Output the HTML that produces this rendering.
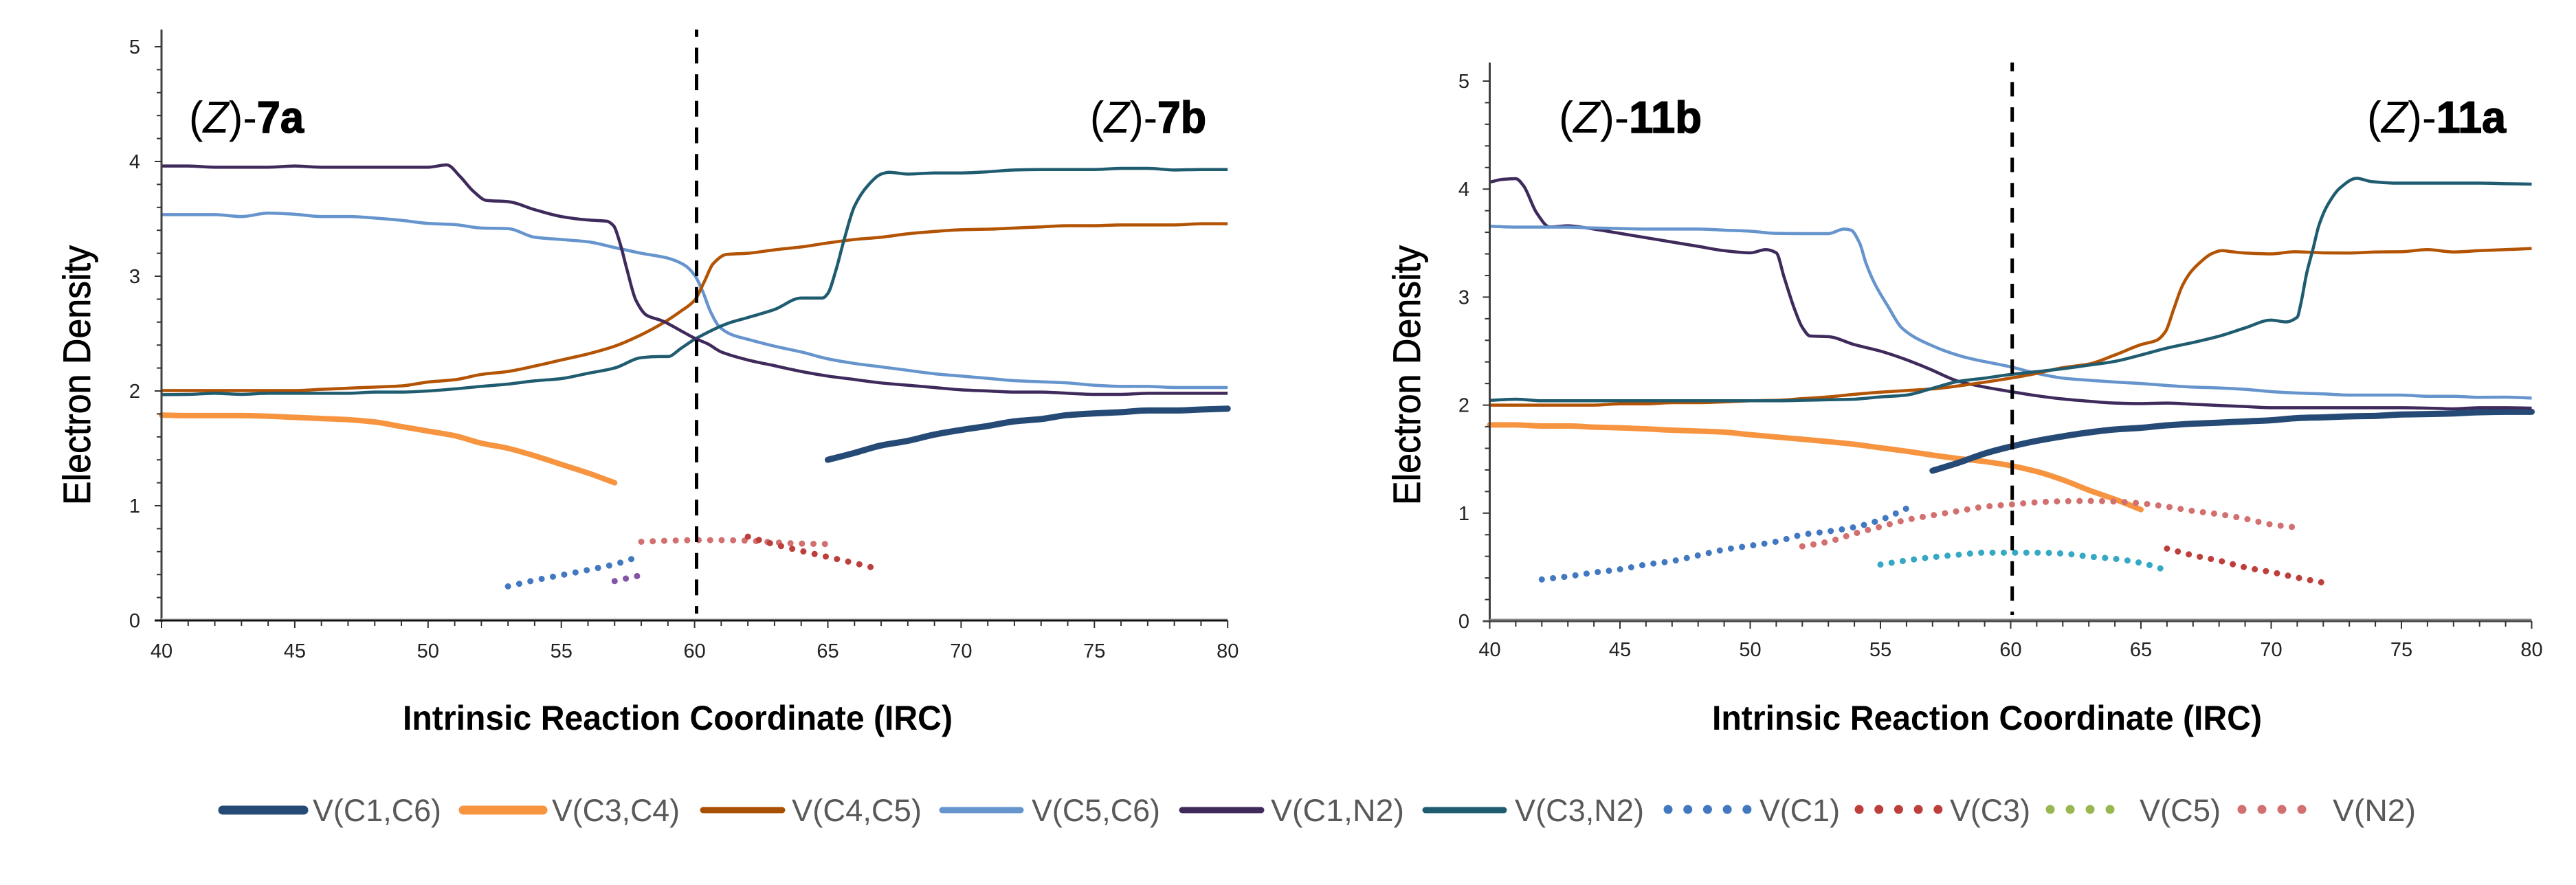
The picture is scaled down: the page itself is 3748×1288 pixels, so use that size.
<!DOCTYPE html>
<html lang="en">
<head>
<meta charset="utf-8">
<title>Electron density along the IRC</title>
<style>
html,body{margin:0;padding:0;background:#fff;}
svg{display:block;}
text{font-family:"Liberation Sans",sans-serif;}
.tick{font-size:29px;fill:#222;}
.axt{font-size:50px;font-weight:bold;fill:#000;}
.ayt{font-size:56px;fill:#000;stroke:#000;stroke-width:.8px;}
.lab{font-size:65px;fill:#000;}
.lab .b{font-weight:bold;stroke:#000;stroke-width:1.5px;}
.leg{font-size:45px;fill:#595959;}
</style>
</head>
<body>
<svg id="figure" xmlns="http://www.w3.org/2000/svg" width="3748" height="1288" viewBox="0 0 3748 1288">
<rect width="3748" height="1288" fill="#fff"/>
<g id="panel-a"></g>
<g id="panel-b"></g>

<text class="ayt" transform="translate(131,546) rotate(-90)" text-anchor="middle" textLength="378" lengthAdjust="spacingAndGlyphs">Electron Density</text>
<text class="ayt" transform="translate(2066,546) rotate(-90)" text-anchor="middle" textLength="378" lengthAdjust="spacingAndGlyphs">Electron Density</text>
<text class="axt" x="586" y="1062" textLength="800" lengthAdjust="spacingAndGlyphs">Intrinsic Reaction Coordinate  (IRC)</text>
<text class="axt" x="2491" y="1062" textLength="800" lengthAdjust="spacingAndGlyphs">Intrinsic Reaction Coordinate  (IRC)</text>

<text class="lab" x="275" y="193" textLength="167" lengthAdjust="spacingAndGlyphs">(<tspan font-style="italic">Z</tspan>)-<tspan class="b">7a</tspan></text>
<text class="lab" x="1586" y="193" textLength="169" lengthAdjust="spacingAndGlyphs">(<tspan font-style="italic">Z</tspan>)-<tspan class="b">7b</tspan></text>
<text class="lab" x="2268" y="193" textLength="208" lengthAdjust="spacingAndGlyphs">(<tspan font-style="italic">Z</tspan>)-<tspan class="b">11b</tspan></text>
<text class="lab" x="3444" y="193" textLength="202" lengthAdjust="spacingAndGlyphs">(<tspan font-style="italic">Z</tspan>)-<tspan class="b">11a</tspan></text>

<g>
<g><line x1="324" y1="1179" x2="442" y2="1179" stroke="#244a75" stroke-width="13" stroke-linecap="round"/><text class="leg" x="455" y="1195" textLength="187" lengthAdjust="spacingAndGlyphs">V(C1,C6)</text></g>
<g><line x1="674" y1="1179" x2="790" y2="1179" stroke="#f79440" stroke-width="13" stroke-linecap="round"/><text class="leg" x="803" y="1195" textLength="186" lengthAdjust="spacingAndGlyphs">V(C3,C4)</text></g>
<g><line x1="1023" y1="1179" x2="1138" y2="1179" stroke="#aa4f00" stroke-width="9" stroke-linecap="round"/><text class="leg" x="1152" y="1195" textLength="189" lengthAdjust="spacingAndGlyphs">V(C4,C5)</text></g>
<g><line x1="1371" y1="1179" x2="1485" y2="1179" stroke="#6694cd" stroke-width="9" stroke-linecap="round"/><text class="leg" x="1501" y="1195" textLength="187" lengthAdjust="spacingAndGlyphs">V(C5,C6)</text></g>
<g><line x1="1720" y1="1179" x2="1835" y2="1179" stroke="#3f2a5c" stroke-width="9" stroke-linecap="round"/><text class="leg" x="1849" y="1195" textLength="194" lengthAdjust="spacingAndGlyphs">V(C1,N2)</text></g>
<g><line x1="2074" y1="1179" x2="2188" y2="1179" stroke="#1f5c70" stroke-width="9" stroke-linecap="round"/><text class="leg" x="2204" y="1195" textLength="188" lengthAdjust="spacingAndGlyphs">V(C3,N2)</text></g>
<g><line x1="2427" y1="1178" x2="2545" y2="1178" stroke="#4278c0" stroke-width="13" stroke-linecap="round" stroke-dasharray="0.01 28.7"/><text class="leg" x="2560" y="1195" textLength="117" lengthAdjust="spacingAndGlyphs">V(C1)</text></g>
<g><line x1="2705" y1="1178" x2="2822" y2="1178" stroke="#bd3f3c" stroke-width="13" stroke-linecap="round" stroke-dasharray="0.01 28.7"/><text class="leg" x="2837" y="1195" textLength="117" lengthAdjust="spacingAndGlyphs">V(C3)</text></g>
<g><line x1="2983" y1="1178" x2="3073" y2="1178" stroke="#98b84f" stroke-width="13" stroke-linecap="round" stroke-dasharray="0.01 29"/><text class="leg" x="3113" y="1195" textLength="118" lengthAdjust="spacingAndGlyphs">V(C5)</text></g>
<g><line x1="3262" y1="1178" x2="3351" y2="1178" stroke="#d26f6f" stroke-width="13" stroke-linecap="round" stroke-dasharray="0.01 29"/><text class="leg" x="3394" y="1195" textLength="121" lengthAdjust="spacingAndGlyphs">V(N2)</text></g>
</g>
</svg>

<script>
/* Axis tick labels */
const xTickValues = [40,45,50,55,60,65,70,75,80];
const yTickValues = [0,1,2,3,4,5];

/* Panel A: (Z)-7a -> (Z)-7b */
const aC1C6x = [65,66,67,68,69,70,71,72,73,74,75,76,77,78,79,80];
const aC1C6y = [1.40,1.46,1.525,1.565,1.62,1.66,1.695,1.735,1.755,1.79,1.805,1.815,1.83,1.83,1.838,1.846];

const aC3C4x = [40,41,43,44,45,46,47,48,49,50,51,52,53,54,55,56,57];
const aC3C4y = [1.79,1.785,1.785,1.78,1.77,1.76,1.75,1.73,1.69,1.65,1.61,1.545,1.50,1.435,1.36,1.285,1.20];

const aC4C5x = [40,45,46,47,48,49,50,51,52,53,54,55,56,57,58,58.8,59.45,60,60.36,60.7,61.2,62,63,64,65,66,67,68,69,70,71,72,73,74,75,76,77,78,79,80];
const aC4C5y = [2.004,2.004,2.014,2.024,2.034,2.044,2.078,2.098,2.144,2.17,2.217,2.27,2.323,2.39,2.49,2.59,2.69,2.79,2.95,3.11,3.19,3.20,3.23,3.255,3.29,3.32,3.34,3.37,3.39,3.405,3.41,3.42,3.43,3.44,3.44,3.447,3.447,3.447,3.457,3.457];

const aC5C6x = [40,42,43,44,45,46,47,48,49,50,51,52,53,54,55,56,57,58,58.96,59.6,60,60.3,60.6,60.93,61.4,62,63,64,65,66,67,68,69,70,71,72,73,74,75,76,77,78,79,80];
const aC5C6y = [3.537,3.537,3.52,3.55,3.54,3.52,3.52,3.507,3.487,3.46,3.45,3.42,3.415,3.34,3.32,3.30,3.25,3.20,3.16,3.10,3.01,2.87,2.69,2.56,2.49,2.45,2.39,2.34,2.28,2.24,2.21,2.18,2.15,2.13,2.11,2.09,2.08,2.07,2.05,2.04,2.04,2.03,2.03,2.03];

const aC1N2x = [40,41,42,44,45,46,50,50.7,51.2,51.7,52.2,53,54,55,56,56.7,56.96,57.2,57.45,57.8,58.2,58.8,59.6,60,60.5,61,62,63,64,65,66,67,68,69,70,71,72,73,74,75,76,77,78,79,80];
const aC1N2y = [3.96,3.96,3.95,3.95,3.96,3.95,3.95,3.97,3.87,3.74,3.66,3.65,3.58,3.52,3.49,3.48,3.44,3.29,3.07,2.79,2.66,2.61,2.51,2.46,2.41,2.34,2.27,2.22,2.17,2.13,2.10,2.07,2.05,2.03,2.01,2.00,1.99,1.99,1.98,1.97,1.97,1.98,1.98,1.98,1.98];

const aC3N2x = [40,41,42,43,44,47,48,49,50,51,52,53,54,55,56,57,58,58.7,59,59.5,60,61.26,62,63,64,64.8,65,65.3,65.6,66,66.5,67,67.3,68,69,70,71,72,73,75,76,77,78,79,80];
const aC3N2y = [1.968,1.97,1.98,1.97,1.98,1.98,1.99,1.99,2.0,2.018,2.04,2.06,2.088,2.108,2.154,2.20,2.29,2.30,2.30,2.373,2.45,2.59,2.64,2.71,2.81,2.81,2.85,3.05,3.31,3.61,3.79,3.89,3.906,3.89,3.90,3.90,3.91,3.926,3.93,3.93,3.94,3.94,3.926,3.93,3.93];

const aC1x = [53,54,55,56,57,57.7];
const aC1y = [0.297,0.35,0.395,0.44,0.49,0.54];

const aC3x = [62,63,64,65,66,66.7];
const aC3y = [0.73,0.663,0.606,0.553,0.50,0.46];

const aC5x = [57,58];
const aC5y = [0.343,0.395];

const aN2x = [58,59,60,61,62,63,64,65];
const aN2y = [0.686,0.695,0.70,0.70,0.695,0.68,0.67,0.666];

/* Panel B: (Z)-11b -> (Z)-11a */
const bC1C6x = [57,58,59,60,61,62,63,64,65,66,67,68,69,70,71,72,73,74,75,76,77,78,79,80];
const bC1C6y = [1.393,1.467,1.552,1.616,1.669,1.711,1.747,1.775,1.79,1.813,1.828,1.838,1.849,1.86,1.88,1.887,1.896,1.90,1.913,1.917,1.923,1.934,1.938,1.938];

const bC3C4x = [40,41,42,43,44,45,46,47,48,49,50,51,52,53,54,55,56,57,58,59,60,61,62,63,64,65];
const bC3C4y = [1.817,1.817,1.807,1.807,1.796,1.79,1.78,1.768,1.76,1.75,1.726,1.705,1.684,1.662,1.637,1.605,1.573,1.537,1.505,1.478,1.44,1.385,1.308,1.213,1.128,1.033];

const bC4C5x = [40,44,45,46,47,48,49,50,51,52,53,54,55,56,57,58.3,60,61,62,63,64,65,65.6,65.94,66.26,66.58,66.9,67.22,67.7,68.1,68.5,69,70,70.9,72,73,74,75,76,77,78,79,80];
const bC4C5y = [2.0,2.0,2.012,2.012,2.023,2.023,2.03,2.04,2.044,2.06,2.076,2.10,2.12,2.135,2.15,2.188,2.25,2.294,2.347,2.38,2.464,2.56,2.60,2.68,2.89,3.10,3.228,3.31,3.40,3.43,3.42,3.408,3.40,3.42,3.41,3.408,3.418,3.42,3.44,3.418,3.43,3.44,3.45];

const bC5C6x = [40,41,43,44,45,46,48,49,50,51,52,53,53.6,53.87,54.2,54.45,54.79,55.3,55.8,56.3,56.8,57.5,58.3,60,61,62,63,64,65,66,67,68,69,70,71,72,73,75,76,77,78,79,80];
const bC5C6y = [3.656,3.648,3.648,3.64,3.635,3.63,3.63,3.62,3.61,3.59,3.588,3.588,3.63,3.62,3.50,3.31,3.12,2.91,2.72,2.63,2.57,2.50,2.44,2.354,2.294,2.25,2.23,2.214,2.2,2.182,2.167,2.159,2.146,2.125,2.112,2.104,2.093,2.093,2.082,2.082,2.072,2.074,2.065];

const bC1N2x = [40,40.5,41,41.3,41.8,42.3,43,44,45,46,47,48,49,50,50.6,51,51.3,51.7,52,52.3,53,54,55,56,56.86,58,59,60,61,62,63,64,65,66,67,68,69,70,75,76,77,78,79,80];
const bC1N2y = [4.065,4.09,4.097,4.03,3.78,3.65,3.66,3.63,3.59,3.55,3.51,3.47,3.43,3.41,3.44,3.41,3.185,2.89,2.72,2.64,2.634,2.56,2.50,2.42,2.337,2.22,2.167,2.125,2.087,2.057,2.036,2.019,2.014,2.019,2.008,1.997,1.987,1.976,1.976,1.972,1.966,1.976,1.976,1.972];

const bC3N2x = [40,41,42,51,52,53,54,55,56,57,58,59,60,61,62,63,64,65,66,67,68,69,70,70.57,71,71.13,71.37,71.6,71.84,72.16,72.64,73.28,73.84,74.87,78,79,80];
const bC3N2y = [2.044,2.055,2.04,2.04,2.044,2.05,2.055,2.076,2.093,2.156,2.22,2.25,2.284,2.31,2.337,2.37,2.405,2.464,2.528,2.58,2.638,2.715,2.787,2.77,2.814,2.93,3.228,3.44,3.67,3.85,4.01,4.10,4.07,4.055,4.055,4.05,4.046];

const bC1x = [42,43,44,45,46,47,48,49,50,51,52,53,54,55,56];
const bC1y = [0.386,0.414,0.45,0.48,0.524,0.556,0.609,0.662,0.698,0.736,0.80,0.831,0.87,0.937,1.043];

const bC3x = [66,67,68,69,70,71,72];
const bC3y = [0.672,0.609,0.56,0.498,0.454,0.403,0.356];

const bC5x = [55,56,57,58,59,60,61,62,63,64,65,66];
const bC5y = [0.524,0.562,0.592,0.615,0.634,0.634,0.634,0.626,0.598,0.577,0.539,0.47];

const bN2x = [52,53,54,55,56,57,58,59,60,61,62,63,64,65,66,67,68,69,70,71];
const bN2y = [0.693,0.736,0.81,0.874,0.937,0.98,1.02,1.06,1.08,1.10,1.11,1.113,1.107,1.09,1.06,1.02,0.99,0.948,0.895,0.867];

const NS = 'http://www.w3.org/2000/svg';

function shape(parent, tag, attrs) {
  const el = document.createElementNS(NS, tag);
  Object.keys(attrs).forEach(function (k) { el.setAttribute(k, attrs[k]); });
  parent.appendChild(el);
  return el;
}

/* Monotone cubic through the points so spikes do not overshoot */
function curve(xs, ys, sx, sy) {
  const px = xs.map(sx), py = ys.map(sy), n = px.length;
  if (n === 2) return 'M' + px[0] + ' ' + py[0] + 'L' + px[1] + ' ' + py[1];
  const s = [], m = [];
  for (let i = 0; i < n - 1; i++) s.push((py[i + 1] - py[i]) / (px[i + 1] - px[i]));
  m.push(s[0]);
  for (let i = 1; i < n - 1; i++) {
    m.push(s[i - 1] * s[i] <= 0 ? 0 : 2 * s[i - 1] * s[i] / (s[i - 1] + s[i]));
  }
  m.push(s[n - 2]);
  let d = 'M' + px[0].toFixed(2) + ' ' + py[0].toFixed(2);
  for (let i = 0; i < n - 1; i++) {
    const h = (px[i + 1] - px[i]) / 3;
    d += 'C' + (px[i] + h).toFixed(2) + ' ' + (py[i] + m[i] * h).toFixed(2) + ' ' +
         (px[i + 1] - h).toFixed(2) + ' ' + (py[i + 1] - m[i + 1] * h).toFixed(2) + ' ' +
         px[i + 1].toFixed(2) + ' ' + py[i + 1].toFixed(2);
  }
  return d;
}

function drawPanel(panelId, g, seriesList) {
  const root = document.getElementById(panelId);
  const sx = function (v) { return g.x40 + (v - 40) * g.ux; };
  const sy = function (v) { return g.y0 - v * g.uy; };

  /* series first, axes over them */
  seriesList.forEach(function (s) {
    const p = shape(root, 'path', {
      d: curve(s.xs, s.ys, sx, sy), fill: 'none', stroke: s.color,
      'stroke-width': s.w, 'stroke-linecap': s.dots ? 'round' : (s.cap || 'butt'), 'stroke-linejoin': 'round'
    });
    if (s.dots) p.setAttribute('stroke-dasharray', '0.01 ' + g.dotGap);
    
    
  });

  const yAxis = shape(root, 'line', { x1: g.x40, x2: g.x40, y1: g.top, y2: g.y0 + 2, stroke: '#404040', 'stroke-width': 3 });
  
  

  const band = shape(root, 'line', { x1: g.x40, x2: sx(80), y1: g.y0 - 2, y2: g.y0 - 2, stroke: g.bandColor, 'stroke-width': 3 });
  
  

  const xAxis = shape(root, 'line', { x1: g.x40 - 10, x2: sx(80), y1: g.y0, y2: g.y0, stroke: g.axisColor, 'stroke-width': 3 });
  
  

  for (let v = 40; v <= 80; v++) {
    const major = v % 5 === 0;
    const t = shape(root, 'line', { x1: sx(v), x2: sx(v), y1: g.y0, y2: g.y0 + (major ? 11 : 8), stroke: '#333', 'stroke-width': 2 });
    
    
  }
  for (let k = 1; k <= 25; k++) {
    const major = k % 5 === 0;
    const t = shape(root, 'line', { x1: g.x40 - (major ? 10 : 7), x2: g.x40, y1: sy(k / 5), y2: sy(k / 5), stroke: '#333', 'stroke-width': 2 });
    
    
  }
  xTickValues.forEach(function (v) {
    const t = shape(root, 'text', { x: sx(v), y: g.xLabelY, 'text-anchor': 'middle', class: 'tick' });
    t.textContent = String(v);
    
    
  });
  yTickValues.forEach(function (v) {
    const t = shape(root, 'text', { x: g.yLabelX, y: sy(v) + 10, 'text-anchor': 'end', class: 'tick' });
    t.textContent = String(v);
    
    
  });

  const ts = shape(root, 'line', {
    x1: g.tsX, x2: g.tsX, y1: g.top, y2: g.tsEnd, stroke: '#000', 'stroke-width': 5,
    'stroke-dasharray': g.tsDash, 'stroke-dashoffset': g.tsOffset
  });
  
  
}

const colorC1C6 = '#244a75', colorC3C4 = '#f79440', colorC4C5 = '#b35304', colorC5C6 = '#6694cd',
      colorC1N2 = '#3f2a5c', colorC3N2 = '#1f5c70', colorC1 = '#4278c0', colorC3 = '#bd3f3c',
      colorN2 = '#d26f6f', colorViolet = '#8454a8', colorCyan = '#35a8c4';

drawPanel('panel-a',
  { x40: 235, ux: 38.78, y0: 903, uy: 167, top: 43, xLabelY: 957, yLabelX: 204,
    tsX: 1013.5, tsEnd: 893, tsDash: '23 15.7', tsOffset: 12.3, dotGap: 16.7,
    axisColor: '#111', bandColor: '#d9d9d9' },
  [
    { name: 'series-a-v-c3-c4', xs: aC3C4x, ys: aC3C4y, color: colorC3C4, w: 8, cap: 'round' },
    { name: 'series-a-v-c1-c6', xs: aC1C6x, ys: aC1C6y, color: colorC1C6, w: 9, cap: 'round' },
    { name: 'series-a-v-c5-c6', xs: aC5C6x, ys: aC5C6y, color: colorC5C6, w: 4.5 },
    { name: 'series-a-v-c4-c5', xs: aC4C5x, ys: aC4C5y, color: colorC4C5, w: 4.5 },
    { name: 'series-a-v-c3-n2', xs: aC3N2x, ys: aC3N2y, color: colorC3N2, w: 4.5 },
    { name: 'series-a-v-c1-n2', xs: aC1N2x, ys: aC1N2y, color: colorC1N2, w: 4.5 },
    { name: 'series-a-v-c1', xs: aC1x, ys: aC1y, color: colorC1, w: 9, dots: true },
    { name: 'series-a-v-c5', xs: aC5x, ys: aC5y, color: colorViolet, w: 9, dots: true },
    { name: 'series-a-v-n2', xs: aN2x, ys: aN2y, color: colorN2, w: 9, dots: true },
    { name: 'series-a-v-c3', xs: aC3x, ys: aC3y, color: colorC3, w: 9, dots: true }
  ]);

drawPanel('panel-b',
  { x40: 2167.5, ux: 37.9, y0: 904, uy: 157.2, top: 91, xLabelY: 955, yLabelX: 2138,
    tsX: 2927.7, tsEnd: 895, tsDash: '21 15.7', tsOffset: 8.3, dotGap: 16.4,
    axisColor: '#4d4d4d', bandColor: '#8c8c8c' },
  [
    { name: 'series-b-v-c3-c4', xs: bC3C4x, ys: bC3C4y, color: colorC3C4, w: 8, cap: 'round' },
    { name: 'series-b-v-c1-c6', xs: bC1C6x, ys: bC1C6y, color: colorC1C6, w: 9, cap: 'round' },
    { name: 'series-b-v-c1-n2', xs: bC1N2x, ys: bC1N2y, color: colorC1N2, w: 4.5 },
    { name: 'series-b-v-c5-c6', xs: bC5C6x, ys: bC5C6y, color: colorC5C6, w: 4.5 },
    { name: 'series-b-v-c4-c5', xs: bC4C5x, ys: bC4C5y, color: colorC4C5, w: 4.5 },
    { name: 'series-b-v-c3-n2', xs: bC3N2x, ys: bC3N2y, color: colorC3N2, w: 4.5 },
    { name: 'series-b-v-c1', xs: bC1x, ys: bC1y, color: colorC1, w: 9, dots: true },
    { name: 'series-b-v-n2', xs: bN2x, ys: bN2y, color: colorN2, w: 9, dots: true },
    { name: 'series-b-v-c5', xs: bC5x, ys: bC5y, color: colorCyan, w: 9, dots: true },
    { name: 'series-b-v-c3', xs: bC3x, ys: bC3y, color: colorC3, w: 9, dots: true }
  ]);
</script>
</body>
</html>
